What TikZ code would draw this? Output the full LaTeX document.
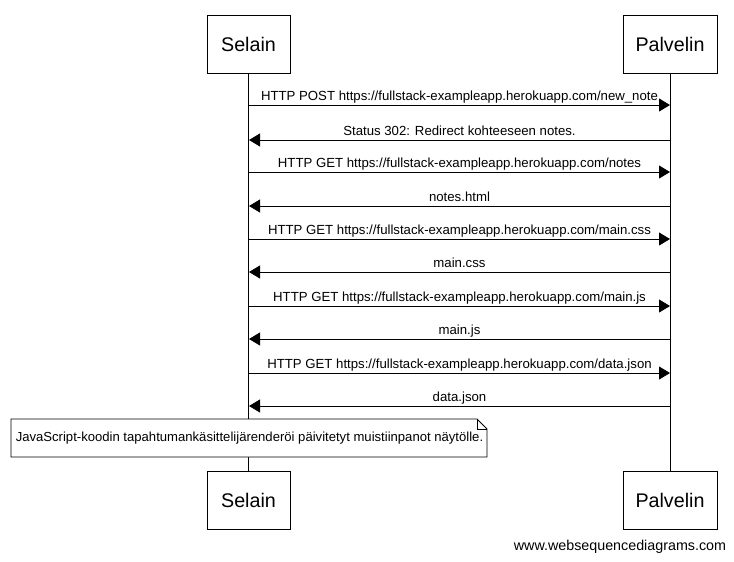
\documentclass[tikz,border=0pt]{standalone}
\usepackage{fontspec}
\setmainfont{Liberation Sans}
\usetikzlibrary{arrows.meta}

\begin{document}
\begin{tikzpicture}[x=1pt,y=-1pt,
  actor/.style={draw,line width=1pt,minimum height=58pt,inner sep=0pt,font=\fontsize{19.7}{22}\selectfont},
  msg/.style={-{Triangle[length=11pt,width=13pt]},line width=0.8pt},
  lbl/.style={anchor=base,yshift=5pt,inner sep=0pt,font=\fontsize{13.2}{15}\selectfont}]
  \useasboundingbox (0,0) rectangle (734,562);
  % participants
  \node[actor,minimum width=83pt] (selTop) at (248.5,44) {Selain};
  \node[actor,minimum width=94pt] (palTop) at (670,44) {Palvelin};
  \node[actor,minimum width=83pt] (selBot) at (248.5,500) {Selain};
  \node[actor,minimum width=94pt] (palBot) at (670,500) {Palvelin};
  \draw[line width=0.8pt] (selTop.south) -- (selBot.north);
  \draw[line width=0.8pt] (palTop.south) -- (palBot.north);
  % messages
  \coordinate (s1) at (249,105);  \coordinate (p1) at (670,105);
  \coordinate (s2) at (249,140);  \coordinate (p2) at (670,140);
  \coordinate (s3) at (249,172);  \coordinate (p3) at (670,172);
  \coordinate (s4) at (249,206);  \coordinate (p4) at (670,206);
  \coordinate (s5) at (249,239);  \coordinate (p5) at (670,239);
  \coordinate (s6) at (249,272);  \coordinate (p6) at (670,272);
  \coordinate (s7) at (249,306);  \coordinate (p7) at (670,306);
  \coordinate (s8) at (249,339);  \coordinate (p8) at (670,339);
  \coordinate (s9) at (249,373);  \coordinate (p9) at (670,373);
  \coordinate (s10) at (249,406); \coordinate (p10) at (670,406);
  \draw[msg] (s1) -- node[lbl] {HTTP POST https://fullstack-exampleapp.herokuapp.com/new\_note} (p1);
  \draw[msg] (p2) -- node[lbl] {Status 302: Redirect kohteeseen notes.} (s2);
  \draw[msg] (s3) -- node[lbl] {HTTP GET https://fullstack-exampleapp.herokuapp.com/notes} (p3);
  \draw[msg] (p4) -- node[lbl] {notes.html} (s4);
  \draw[msg] (s5) -- node[lbl] {HTTP GET https://fullstack-exampleapp.herokuapp.com/main.css} (p5);
  \draw[msg] (p6) -- node[lbl] {main.css} (s6);
  \draw[msg] (s7) -- node[lbl] {HTTP GET https://fullstack-exampleapp.herokuapp.com/main.js} (p7);
  \draw[msg] (p8) -- node[lbl] {main.js} (s8);
  \draw[msg] (s9) -- node[lbl] {HTTP GET https://fullstack-exampleapp.herokuapp.com/data.json} (p9);
  \draw[msg] (p10) -- node[lbl] {data.json} (s10);
  % note
  \filldraw[fill=white,line width=0.8pt] (11,419) -- (477,419) -- (487,429) -- (487,457) -- (11,457) -- cycle;
  \draw[line width=0.8pt] (477,419) -- (477,429) -- (487,429);
  \node[inner sep=0pt,font=\fontsize{13.1}{15}\selectfont] (note) at (249.5,438)
    {JavaScript-koodin tapahtumankäsittelijärenderöi päivitetyt muistiinpanot näytölle.};
  % footer
  \node[inner sep=0pt,font=\fontsize{14.3}{16}\selectfont] (footer) at (620,547) {www.websequencediagrams.com};
\end{tikzpicture}
\end{document}
